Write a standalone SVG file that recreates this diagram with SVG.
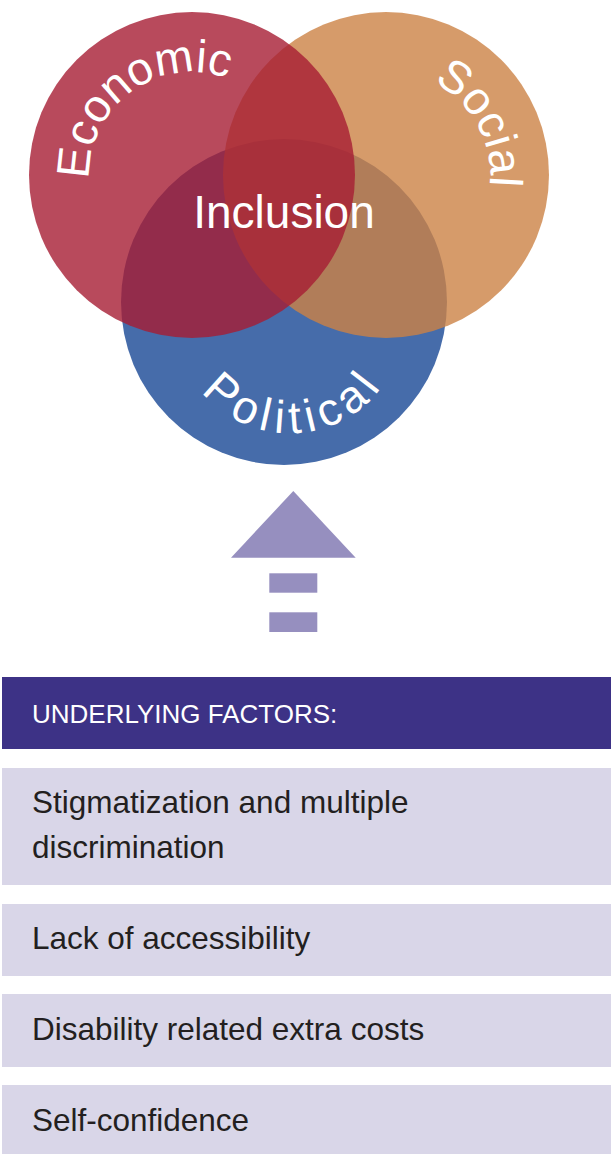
<svg xmlns="http://www.w3.org/2000/svg" width="611" height="1154" viewBox="0 0 611 1154">
<style>
.lbl{font-family:"Liberation Sans",Arial,sans-serif;font-size:46px;fill:#ffffff}
.hdr{font-family:"Liberation Sans",Arial,sans-serif;font-size:26px;fill:#ffffff}
.row{fill:#d9d6e8}
.rt{font-family:"Liberation Sans",Arial,sans-serif;font-size:31.5px;fill:#231f20}
.arr{fill:#968fbf}
</style>
<defs>
<path id="pEco" d="M103.7,228.0 A103,103 0 0 1 269.7,107.4"/>
<path id="pSoc" d="M344.5,79.6 A104,104 0 0 1 443.4,261.7"/>
<path id="pPol" d="M177.5,335.0 A113.5,113.5 0 0 0 403.4,324.8"/>
</defs>
<g id="political"><circle cx="284" cy="302" r="163" fill="#466caa"/></g>
<g id="social"><circle cx="386" cy="175" r="163" fill="#cc8245" fill-opacity="0.8"/></g>
<g id="economic"><circle cx="192" cy="175" r="163" fill="#a61d33" fill-opacity="0.8"/></g>
<g id="labels">
<text class="lbl" text-anchor="middle"><textPath href="#pEco" startOffset="50%">Economic</textPath></text>
<text class="lbl" text-anchor="middle"><textPath href="#pSoc" startOffset="50%">Social</textPath></text>
<text class="lbl" text-anchor="middle" letter-spacing="6"><textPath href="#pPol" startOffset="50%">Political</textPath></text>
<text class="lbl" x="284" y="228" text-anchor="middle">Inclusion</text>
</g>
<g id="connectors">
<polygon class="arr" points="293.3,491 231,557.7 355.7,557.7"/>
<rect class="arr" x="269.3" y="573.3" width="48" height="19.4"/>
<rect class="arr" x="269.3" y="612.3" width="48" height="19.7"/>
</g>
<g id="header">
<rect x="2" y="677" width="609" height="72" fill="#3d3286"/>
<text class="hdr" x="32" y="723">UNDERLYING FACTORS:</text>
</g>
<g id="f1"><rect class="row" x="2" y="768" width="609" height="117"/>
<text class="rt" x="32" y="813">Stigmatization and multiple</text>
<text class="rt" x="32" y="858">discrimination</text></g>
<g id="f2"><rect class="row" x="2" y="904" width="609" height="72"/>
<text class="rt" x="32" y="949">Lack of accessibility</text></g>
<g id="f3"><rect class="row" x="2" y="994" width="609" height="73"/>
<text class="rt" x="32" y="1040">Disability related extra costs</text></g>
<g id="f4"><rect class="row" x="2" y="1085" width="609" height="69"/>
<text class="rt" x="32" y="1131">Self-confidence</text></g>
</svg>
